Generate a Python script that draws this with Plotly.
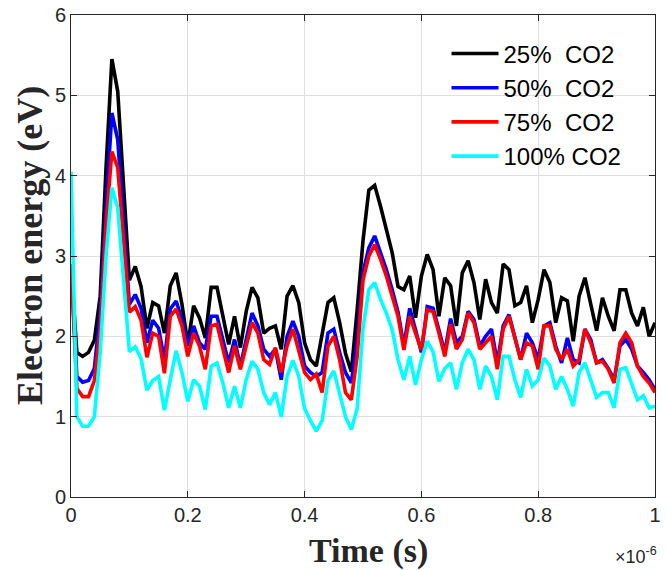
import numpy as np
import plotly.graph_objects as go

# time grid (in units of 1e-6 s), sampled every 0.01 us
time_us = np.round(np.arange(101) * 0.01, 2)
time_s = time_us * 1e-6

co2_25 = [2.9, 1.8, 1.75, 1.8, 1.95, 2.5, 4.1, 5.45, 5.05, 3.9,
          2.7, 2.87, 2.62, 2.1, 2.42, 2.38, 2.04, 2.63, 2.79, 2.40,
          1.90, 2.38, 2.23, 1.98, 2.61, 2.61, 2.25, 1.90, 2.25, 1.86,
          2.31, 2.61, 2.48, 2.04, 2.10, 2.13, 1.84, 2.50, 2.63, 2.42,
          1.92, 1.71, 1.63, 2.00, 2.42, 2.48, 2.17, 1.79, 1.56, 2.33,
          3.19, 3.82, 3.88, 3.62, 3.33, 3.04, 2.62, 2.58, 2.75, 2.23,
          2.75, 3.02, 2.83, 2.25, 2.73, 2.63, 2.13, 2.79, 2.94, 2.67,
          2.21, 2.71, 2.42, 2.29, 2.90, 2.83, 2.38, 2.42, 2.63, 2.17,
          2.46, 2.83, 2.67, 2.17, 2.48, 2.44, 1.94, 2.50, 2.73, 2.38,
          2.07, 2.48, 2.25, 2.07, 2.58, 2.58, 2.29, 2.13, 2.36, 2.00,
          2.17]

co2_50 = [2.9, 1.5, 1.43, 1.45, 1.6, 2.3, 3.6, 4.78, 4.45, 3.4,
          2.4, 2.52, 2.35, 1.92, 2.2, 2.1, 1.7, 2.34, 2.44, 2.21,
          1.88, 2.13, 1.92, 1.84, 2.25, 2.25, 1.96, 1.67, 1.96, 1.63,
          1.96, 2.29, 2.13, 1.84, 1.75, 1.84, 1.46, 2.0, 2.19, 2.0,
          1.63, 1.55, 1.5, 1.55, 2.04, 2.09, 1.8, 1.55, 1.42, 1.95,
          2.8, 3.1, 3.25, 3.05, 2.83, 2.58, 2.3, 1.88, 2.35, 2.08,
          1.8, 2.37, 2.35, 2.08, 1.8, 2.22, 1.92, 2.0, 2.31, 2.21,
          1.88, 2.0, 2.09, 1.67, 2.13, 2.27, 2.0, 1.71, 2.04, 1.92,
          1.71, 2.13, 2.17, 1.88, 1.67, 1.98, 1.71, 1.67, 2.09, 1.96,
          1.67, 1.71, 1.6, 1.46, 1.88, 1.96, 1.84, 1.63, 1.55, 1.46,
          1.34]

co2_75 = [2.9, 1.35, 1.25, 1.25, 1.45, 2.1, 3.4, 4.3, 4.1, 3.2,
          2.3, 2.37, 2.2, 1.74, 2.04, 2.0, 1.54, 2.25, 2.34, 2.13,
          1.75, 2.04, 1.88, 1.59, 2.13, 2.15, 1.84, 1.55, 1.88, 1.59,
          1.88, 2.17, 2.04, 1.71, 1.65, 1.86, 1.55, 1.88, 2.09, 1.84,
          1.55, 1.46, 1.53, 1.3, 1.88, 2.0, 1.71, 1.3, 1.21, 1.75,
          2.7, 3.0, 3.14, 2.96, 2.75, 2.5, 2.25, 1.83, 2.25, 2.04,
          1.83, 2.33, 2.31, 2.04, 1.75, 2.15, 1.84, 1.96, 2.29, 2.17,
          1.84, 1.92, 2.0, 1.59, 2.09, 2.25, 2.0, 1.71, 1.92, 1.88,
          1.59, 2.13, 2.13, 1.84, 1.71, 1.84, 1.63, 1.71, 2.09, 1.92,
          1.67, 1.69, 1.59, 1.42, 1.92, 2.04, 1.92, 1.63, 1.5, 1.42,
          1.30]

co2_100 = [4.05, 1.0, 0.88, 0.88, 1.0, 1.8, 3.0, 3.85, 3.6, 2.7,
           1.81, 1.87, 1.72, 1.33, 1.45, 1.5, 1.08, 1.46, 1.82, 1.55,
           1.19, 1.46, 1.38, 1.09, 1.63, 1.67, 1.42, 1.11, 1.38, 1.11,
           1.46, 1.69, 1.59, 1.3, 1.15, 1.3, 1.0, 1.5, 1.7, 1.5,
           1.1, 0.95, 0.82, 0.95, 1.45, 1.57, 1.3, 1.0, 0.84, 1.1,
           2.1, 2.58, 2.67, 2.46, 2.29, 2.08, 1.71, 1.46, 1.75, 1.4,
           1.71, 1.94, 1.81, 1.44, 1.6, 1.67, 1.34, 1.67, 1.84, 1.71,
           1.34, 1.63, 1.5, 1.21, 1.75, 1.75, 1.46, 1.24, 1.59, 1.38,
           1.46, 1.73, 1.63, 1.34, 1.5, 1.34, 1.13, 1.55, 1.67, 1.46,
           1.24, 1.3, 1.3, 1.11, 1.59, 1.61, 1.42, 1.21, 1.26, 1.11,
           1.13]

series_names = ["25%  CO2", "50%  CO2", "75%  CO2", "100% CO2"]
series_colors = ["#000000", "#0000ff", "#ff0000", "#00ffff"]
series_values = [co2_25, co2_50, co2_75, co2_100]

x_tickvals = [0, 0.2e-6, 0.4e-6, 0.6e-6, 0.8e-6, 1e-6]
x_ticktext = ["0", "0.2", "0.4", "0.6", "0.8", "1"]
y_tickvals = [0, 1, 2, 3, 4, 5, 6]

fig = go.Figure()
for name, color, vals in zip(series_names, series_colors, series_values):
    fig.add_trace(go.Scatter(x=time_s, y=vals, mode="lines", name=name,
                             line=dict(color=color, width=3.6)))

axis_common = dict(showline=True, linecolor="#262626", linewidth=1, mirror="ticks",
                   ticks="inside", ticklen=6, tickcolor="#262626", automargin=False,
                   showgrid=True, gridcolor="#dfdfdf", gridwidth=1, zeroline=False,
                   tickfont=dict(family="Liberation Sans", size=20, color="#262626"))

fig.update_layout(
    width=667, height=570,
    margin=dict(l=71, r=12, t=15, b=73),
    paper_bgcolor="white", plot_bgcolor="white",
    showlegend=True,
    legend=dict(x=0.643, y=0.966, xanchor="left", yanchor="top",
                bgcolor="rgba(0,0,0,0)", borderwidth=0,
                font=dict(family="Liberation Sans", size=24, color="#000000"),
                itemwidth=47, tracegroupgap=0),
    xaxis=dict(range=[0, 1e-6], tickvals=x_tickvals, ticktext=x_ticktext, **axis_common),
    yaxis=dict(range=[0, 6], tickvals=y_tickvals, **axis_common),
)

fig.add_annotation(text="<b>Time (s)</b>", xref="paper", yref="paper", x=0.5, y=0,
                   xshift=5, yshift=-54, showarrow=False, xanchor="center", yanchor="middle",
                   font=dict(family="Liberation Serif", size=34, color="#262626"))
fig.add_annotation(text="<b>Electron energy (eV)</b>", xref="paper", yref="paper", x=0, y=0.5,
                   xshift=-41, yshift=10, showarrow=False, textangle=-90,
                   xanchor="center", yanchor="middle",
                   font=dict(family="Liberation Serif", size=36, color="#262626"))
fig.add_annotation(text="×10<sup>-6</sup>", xref="paper", yref="paper", x=1, y=0,
                   xshift=4, yshift=-58, showarrow=False, xanchor="right", yanchor="middle",
                   font=dict(family="Liberation Sans", size=18, color="#262626"))

fig.write_html("out.html", config={"displayModeBar": False},
               post_script="document.body.style.margin='0';document.body.style.overflow='hidden';")
